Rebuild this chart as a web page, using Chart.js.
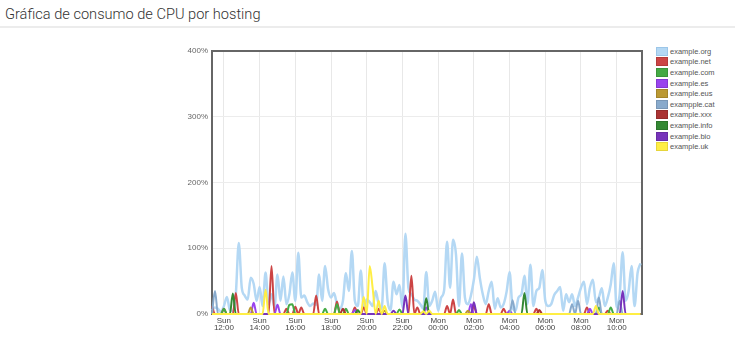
<!DOCTYPE html>
<html>
<head>
<meta charset="utf-8">
<title>Gráfica de consumo de CPU por hosting</title>
<script src="https://cdn.jsdelivr.net/npm/chart.js@4/dist/chart.umd.min.js"></script>
<style>
  body { margin: 0; background: #fff; width: 737px; height: 344px; overflow: hidden; position: relative; }
  #title { position: absolute; left: 5px; top: 5px; font: 300 14.6px Roboto, sans-serif; color: #333; }
  #rule { position: absolute; left: 0; top: 26px; width: 735px; height: 2px; background: #ececec; }
  #Chart_Div { position: absolute; left: 180px; top: 40px; width: 470px; height: 300px; }
  #legend-container { position: absolute; left: 656px; top: 46px; }
  #legend-container ul { list-style: none; margin: 0; padding: 0; }
  #legend-container li { display: flex; align-items: center; height: 10.6px; font: 7.5px "Liberation Sans", Arial, sans-serif; color: #555; }
  #legend-container span { display: inline-block; width: 10px; height: 7px; margin-right: 2px; border: 1px solid; }
</style>
</head>
<body>

<div id="title">Gráfica de consumo de CPU por hosting</div>
<div id="rule"></div>
<div id="Chart_Div"><canvas id="myChart"></canvas></div>
<div id="legend-container"></div>

<script type="text/javascript">
// time axis: minutes since Sunday 00:00, one sample every 10 minutes
const START_MIN = 680;   // Sun 11:20
const STEP_MIN = 10;
const X_MAX = 2125;      // Mon 11:25

const TICK_VALUES = [720, 840, 960, 1080, 1200, 1320, 1440, 1560, 1680, 1800, 1920, 2040];
const TICK_LABELS = [
  ['Sun', '12:00'], ['Sun', '14:00'], ['Sun', '16:00'], ['Sun', '18:00'], ['Sun', '20:00'], ['Sun', '22:00'],
  ['Mon', '00:00'], ['Mon', '02:00'], ['Mon', '04:00'], ['Mon', '06:00'], ['Mon', '08:00'], ['Mon', '10:00']
];
const Y_TICKS = [0, 100, 200, 300, 400];

const SERIES_NAMES = ['example.org', 'example.net', 'example.com', 'example.es', 'example.eus',
  'exampple.cat', 'example.xxx', 'example.info', 'example.bio', 'example.uk'];
const SERIES_COLORS = ['#b4d8f4', '#cc4444', '#44aa44', '#9944ee', '#bb9933',
  '#88aacc', '#aa3333', '#338833', '#7733bb', '#ffee44'];
const BOX_BORDERS = ['#9cc6e8', '#b33a3a', '#3a943a', '#8438d0', '#a3852b',
  '#7896b5', '#932c2c', '#2b742b', '#672ca3', '#e6d53b'];

// CPU % per 10 minutes (rows of 2 hours)
const ORG = [
  5,10,8,3,12,26,6,4,30,108,40,28,
  22,55,46,20,41,12,63,15,30,10,60,20,
  57,15,30,63,20,93,25,28,18,12,16,14,
  60,20,73,38,25,32,15,8,20,62,35,96,
  20,12,66,10,22,18,12,35,15,8,77,20,
  6,49,30,44,10,122,40,30,22,20,15,8,
  64,12,20,34,5,25,36,110,40,113,90,12,
  92,25,15,28,52,87,55,30,15,35,49,8,
  24,10,15,34,64,10,5,25,30,58,15,75,
  12,35,40,67,20,12,15,29,35,41,5,30,
  18,30,12,25,40,49,15,40,52,18,25,39,
  12,25,45,77,10,30,94,20,35,73,12,62,
  77
];
const NET = [
  12,0,0,0,8,0,0,0,32,0,0,0,
  0,0,0,0,0,0,0,0,73,0,0,0,
  0,8,0,0,11,0,10,0,0,0,0,28,
  0,0,0,0,0,0,19,0,0,0,0,0,
  10,0,0,10,0,0,0,0,8,0,0,0,
  0,0,0,0,0,0,0,58,0,10,0,0,
  0,0,0,0,0,0,0,12,0,22,0,0,
  0,0,0,0,12,0,0,0,0,15,0,0,
  0,0,8,0,0,0,0,0,0,0,0,0,
  0,8,0,0,0,0,0,0,0,0,0,0,
  0,0,0,0,0,0,10,0,0,0,0,0,
  0,5,0,0,0,0,0,0,0,0,0,0,
  0
];
const COM = [
  0,0,0,0,8,0,0,0,0,0,0,0,
  0,0,0,0,0,0,0,0,0,0,0,0,
  0,0,14,15,0,0,0,0,0,0,0,0,
  0,0,8,0,0,0,15,0,0,8,0,0,
  0,0,0,0,0,0,0,0,0,0,0,0,
  0,0,0,7,0,0,0,0,0,0,0,0,
  0,0,0,0,0,0,0,0,0,0,0,6,
  0,0,0,0,0,0,0,0,0,0,0,0,
  0,0,0,0,0,0,0,0,0,0,0,0,
  0,0,0,0,0,0,0,0,0,0,0,0,
  0,0,0,0,0,0,0,0,0,0,10,0,
  0,0,10,0,0,0,0,0,0,0,0,0,
  0
];
const ES = [
  0,0,0,0,0,0,0,0,0,0,0,0,
  0,0,17,0,0,0,0,0,0,0,14,0,
  0,0,0,0,0,0,0,0,0,0,0,0,
  0,0,0,0,0,0,0,0,0,0,0,0,
  6,0,0,0,0,0,0,0,0,0,0,0,
  0,0,0,0,0,0,0,0,0,0,0,0,
  10,0,0,0,0,0,0,0,0,0,0,0,
  0,0,0,15,0,0,0,0,0,0,0,0,
  0,0,0,0,5,0,0,0,0,0,0,0,
  0,0,0,0,0,0,0,0,0,0,0,0,
  0,0,0,0,0,0,0,8,0,0,0,0,
  0,0,0,0,0,0,0,0,0,0,0,0,
  0
];
const EUS = [
  0,0,0,0,0,0,0,0,0,0,0,0,
  0,10,0,0,0,0,0,0,0,0,0,0,
  0,0,0,0,0,0,0,0,0,0,0,0,
  0,0,0,0,0,0,0,0,0,0,0,0,
  0,0,0,0,0,0,0,0,0,0,5,0,
  0,0,0,0,0,0,0,0,0,0,0,0,
  0,0,0,0,0,0,0,0,0,0,0,0,
  0,0,5,0,0,0,0,0,0,0,0,0,
  0,0,0,0,0,0,0,0,0,0,0,0,
  0,0,0,0,0,0,0,0,0,0,0,0,
  0,0,0,0,0,0,0,0,0,0,0,0,
  0,0,0,0,0,0,0,0,0,0,0,0,
  0
];
const CAT = [
  0,35,0,0,0,0,0,0,0,0,0,0,
  0,0,0,0,0,0,0,0,0,0,0,0,
  0,0,0,0,0,0,0,0,0,0,0,0,
  0,0,0,0,0,0,0,0,0,0,0,0,
  0,0,0,0,0,0,0,0,0,0,0,0,
  0,0,0,0,0,0,0,0,0,0,0,0,
  0,0,0,0,0,0,0,0,0,0,0,0,
  0,0,0,0,0,0,0,0,0,0,0,0,
  0,0,0,0,0,21,0,0,0,0,0,0,
  0,0,0,0,0,0,0,0,0,0,0,0,
  0,15,0,20,0,0,0,0,0,0,25,0,
  0,0,0,0,0,20,0,0,0,0,0,0,
  0
];
const XXX = [
  0,0,0,0,0,0,0,0,0,0,0,0,
  0,0,0,0,0,0,0,0,0,0,0,0,
  0,0,0,0,0,0,0,0,0,0,0,0,
  0,0,0,0,0,0,0,0,8,0,0,0,
  0,0,0,0,0,0,0,0,0,0,0,0,
  0,0,0,0,0,0,0,0,0,0,0,0,
  0,0,0,0,0,0,0,0,0,0,0,0,
  0,0,0,0,0,0,0,0,0,0,0,0,
  0,0,0,0,0,0,0,0,0,0,0,0,
  0,0,6,0,0,0,0,0,0,0,0,0,
  0,0,0,0,0,0,0,0,0,0,0,0,
  0,0,0,0,0,0,0,0,0,0,0,0,
  0
];
const INFO = [
  0,0,0,0,0,0,0,31,0,0,0,0,
  0,0,0,0,0,0,0,0,0,0,0,0,
  0,0,0,0,0,0,0,0,0,0,0,0,
  0,0,0,0,0,0,0,0,0,0,0,0,
  0,6,0,0,0,0,0,0,0,0,0,0,
  0,0,0,0,0,0,0,0,0,0,0,0,
  24,0,0,0,0,0,0,0,0,0,0,0,
  0,0,0,0,0,0,0,0,0,0,0,0,
  0,0,0,0,0,0,0,0,0,32,0,0,
  0,0,0,0,0,0,0,0,0,0,0,0,
  0,0,0,0,0,0,0,0,0,0,0,0,
  0,0,0,0,0,0,0,0,0,0,0,0,
  0
];
const BIO = [
  0,0,0,0,0,0,0,0,0,0,0,0,
  0,0,0,0,0,0,0,0,0,0,0,0,
  0,0,0,0,0,0,0,0,0,0,0,0,
  0,0,0,0,0,0,0,0,0,0,0,0,
  0,0,0,0,0,0,0,0,0,0,0,0,
  0,5,0,0,0,28,0,0,0,0,0,0,
  0,0,0,0,0,0,0,0,0,0,0,0,
  0,0,0,0,18,0,0,0,0,0,0,0,
  0,0,0,0,0,0,0,0,0,0,0,0,
  0,0,0,0,0,0,0,0,0,0,0,0,
  0,0,0,0,0,0,0,0,0,0,0,0,
  0,0,0,0,0,0,35,0,0,0,0,0,
  0
];
const UK = [
  0,0,0,0,0,0,0,0,0,0,0,0,
  0,0,0,0,0,0,37,0,0,0,0,0,
  0,0,0,0,0,0,0,0,0,0,0,0,
  0,0,0,0,0,0,0,0,0,0,0,0,
  0,0,0,26,0,73,39,0,20,0,12,0,
  0,0,0,0,0,0,0,0,0,0,0,4,
  0,5,0,0,0,0,0,0,0,0,0,0,
  0,0,0,0,0,0,0,0,0,0,0,0,
  0,0,0,0,0,0,0,0,0,0,0,0,
  0,0,0,0,0,0,0,0,0,0,0,0,
  0,0,0,0,0,0,0,0,0,12,0,0,
  0,0,0,0,0,0,0,0,0,0,0,0,
  0
];

const SERIES_VALUES = [ORG, NET, COM, ES, EUS, CAT, XXX, INFO, BIO, UK];

const datasets = SERIES_VALUES.map((vals, i) => ({
  label: SERIES_NAMES[i],
  data: vals.map((v, k) => ({x: START_MIN + k * STEP_MIN, y: v})),
  borderColor: SERIES_COLORS[i],
  backgroundColor: SERIES_COLORS[i],
  borderWidth: i === 0 ? 2.5 : 2,
  pointRadius: 0,
  cubicInterpolationMode: 'monotone',
  fill: false,
  clip: 3,
  order: SERIES_VALUES.length - i
}));

// frame round the plot area, under the lines
const framePlugin = {
  id: 'frame',
  beforeDatasetsDraw(chart) {
    const a = chart.chartArea;
    const ctx = chart.ctx;
    ctx.save();
    ctx.strokeStyle = '#666';
    ctx.lineWidth = 2;
    ctx.strokeRect(a.left, a.top, a.right - a.left, a.bottom - a.top);
    ctx.restore();
  }
};

// html legend, like the original page
const ul = document.createElement('ul');
SERIES_NAMES.forEach((name, i) => {
  const li = document.createElement('li');
  const box = document.createElement('span');
  box.style.background = SERIES_COLORS[i];
  box.style.borderColor = BOX_BORDERS[i];
  li.appendChild(box);
  li.appendChild(document.createTextNode(name));
  ul.appendChild(li);
});
document.getElementById('legend-container').appendChild(ul);

const smallFont = {family: '"Liberation Sans", Arial, sans-serif', size: 8, lineHeight: 0.9};

const config = {
  type: 'line',
  data: {datasets: datasets},
  options: {
    responsive: true,
    maintainAspectRatio: false,
    animation: false,
    layout: {padding: {top: 11, right: 8, left: 0, bottom: 0}},
    plugins: {legend: {display: false}, tooltip: {enabled: false}},
    scales: {
      x: {
        type: 'linear',
        min: START_MIN,
        max: X_MAX,
        afterBuildTicks: axis => { axis.ticks = TICK_VALUES.map(v => ({value: v})); },
        afterFit: axis => { axis.height = 26; },
        grid: {color: '#e8e8e8', drawTicks: false},
        border: {display: false},
        ticks: {
          font: smallFont,
          color: '#444',
          padding: 3,
          maxRotation: 0,
          autoSkip: false,
          callback: v => TICK_LABELS[TICK_VALUES.indexOf(v)]
        }
      },
      y: {
        min: 0,
        max: 400,
        afterBuildTicks: axis => { axis.ticks = Y_TICKS.map(v => ({value: v})); },
        afterFit: axis => { axis.width = 32; },
        grid: {color: '#ececec', drawTicks: false},
        border: {display: false},
        ticks: {font: {family: smallFont.family, size: 8}, color: '#666', padding: 4, callback: v => v + '%'}
      }
    }
  },
  plugins: [framePlugin]
};

const myChart = new Chart(document.getElementById('myChart'), config);
</script>

</body>
</html>
